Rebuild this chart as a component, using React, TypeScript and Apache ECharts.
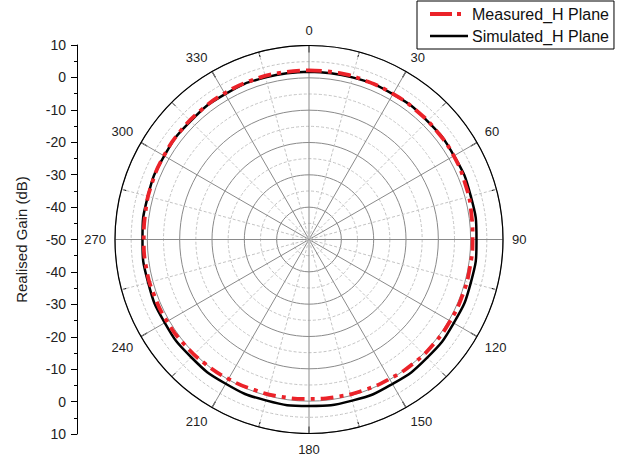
import React, { useEffect, useRef } from "react";
import * as echarts from "echarts";

const simAngles = [0, 15, 30, 45, 60, 75, 90, 105, 120, 135, 150, 165, 180, 195, 210, 225, 240, 255, 270, 285, 300, 315, 330, 345, 360];
const simGain = [1.9, 1.9, 1.9, 1.8, 1.8, 1.8, 1.8, 1.8, 1.7, 1.7, 1.6, 1.6, 1.5, 1.5, 1.5, 1.5, 1.5, 1.5, 1.5, 1.6, 1.7, 1.8, 1.9, 1.9, 1.9];

const measAngles = [0, 10, 20, 30, 40, 50, 60, 70, 80, 90, 100, 110, 120, 130, 140, 150, 160, 170, 180, 190, 200, 210, 220, 230, 240, 250, 260, 270, 280, 290, 300, 310, 320, 330, 340, 350, 360];
const measGain = [2.3, 2.3, 2.1, 2.0, 1.9, 1.8, 1.7, 1.3, 0.9, 0.6, 0.5, 0.5, 0.4, 0.3, 0.1, -0.2, -0.4, -0.6, -0.7, -0.6, -0.5, -0.2, 0.1, 0.4, 0.7, 0.9, 1.1, 1.1, 1.3, 1.6, 1.8, 2.0, 2.1, 2.2, 2.3, 2.3, 2.3];

const seriesNames = ["Measured_H Plane", "Simulated_H Plane"];
const axisTitle = "Realised Gain (dB)";

export default function App() {
  const ref = useRef<HTMLDivElement>(null);
  useEffect(() => {
    if (!ref.current) return;
    const chart = echarts.init(ref.current, undefined, { renderer: "svg" });
    const font = "Liberation Sans, Arial, sans-serif";
    const red = "#eb2229";
    chart.setOption({
      animation: false,
      backgroundColor: "#fff",
      textStyle: { fontFamily: font },
      legend: {
        orient: "vertical",
        left: 417,
        top: 1,
        padding: [5, 5, 5, 11],
        itemWidth: 38,
        itemHeight: 14,
        itemGap: 6,
        borderColor: "#000",
        borderWidth: 1,
        itemStyle: { opacity: 0 },
        textStyle: { fontSize: 16, color: "#111", fontFamily: font, padding: [0, 0, 0, -1] },
        data: [
          { name: seriesNames[0], itemStyle: { opacity: 0 }, lineStyle: { color: red, width: 4, type: [22, 5, 4, 30] } },
          { name: seriesNames[1], itemStyle: { opacity: 0 }, lineStyle: { color: "#000", width: 2.5 } },
        ],
      },
      polar: { center: [309, 239.5], radius: 194 },
      angleAxis: {
        type: "value",
        min: 0,
        max: 360,
        interval: 30,
        startAngle: 90,
        clockwise: true,
        axisLine: { show: true, lineStyle: { color: "#000", width: 1.2 } },
        axisTick: { show: true, inside: true, length: 7, lineStyle: { color: "#000", width: 1.2 } },
        minorTick: { show: true, splitNumber: 2, length: 5, lineStyle: { color: "#000", width: 1 } },
        axisLabel: {
          margin: 9,
          fontSize: 13,
          color: "#222",
          fontFamily: font,
          formatter: (v: number) => (v === 360 ? "" : String(v)),
        },
        splitLine: { show: true, lineStyle: { color: "#8a8a8a", width: 1 } },
        minorSplitLine: { show: true, lineStyle: { color: "#c4c4c4", width: 1, type: [3, 2] } },
      },
      radiusAxis: {
        type: "value",
        min: -50,
        max: 10,
        interval: 10,
        axisLine: { show: false },
        axisTick: { show: false },
        axisLabel: { show: false },
        minorTick: { show: false, splitNumber: 2 },
        splitLine: { show: true, lineStyle: { color: "#8a8a8a", width: 1 } },
        minorSplitLine: { show: true, lineStyle: { color: "#c4c4c4", width: 1, type: [3, 2] } },
      },
      grid: { left: 77, top: 45, width: 1, height: 389 },
      xAxis: { type: "value", show: false, min: 0, max: 1 },
      yAxis: {
        type: "value",
        min: -60,
        max: 60,
        interval: 10,
        name: axisTitle,
        nameLocation: "middle",
        nameRotate: 90,
        nameGap: 48,
        nameTextStyle: { fontSize: 15, color: "#222", fontFamily: font },
        axisLine: { show: true, lineStyle: { color: "#000", width: 1 } },
        axisTick: { show: true, length: 6, lineStyle: { color: "#000" } },
        minorTick: { show: true, splitNumber: 2, length: 3, lineStyle: { color: "#000" } },
        axisLabel: {
          fontSize: 14,
          color: "#222",
          margin: 11,
          fontFamily: font,
          formatter: (v: number) => String(Math.abs(v) - 50),
        },
        splitLine: { show: false },
      },
      series: [
        {
          name: seriesNames[1],
          type: "line",
          coordinateSystem: "polar",
          symbol: "none",
          smooth: true,
          z: 3,
          lineStyle: { color: "#000", width: 2.5 },
          itemStyle: { color: "#000" },
          data: simAngles.map((a, i) => [simGain[i], a]),
        },
        {
          name: seriesNames[0],
          type: "line",
          coordinateSystem: "polar",
          symbol: "none",
          smooth: true,
          z: 4,
          lineStyle: { color: red, width: 3.8, type: [13, 6, 4, 6] },
          itemStyle: { color: red },
          data: measAngles.map((a, i) => [measGain[i], a]),
        },
      ],
    });
    return () => chart.dispose();
  }, []);
  return <div ref={ref} style={{ position: "fixed", left: 0, top: 0, width: 625, height: 457 }} />;
}
